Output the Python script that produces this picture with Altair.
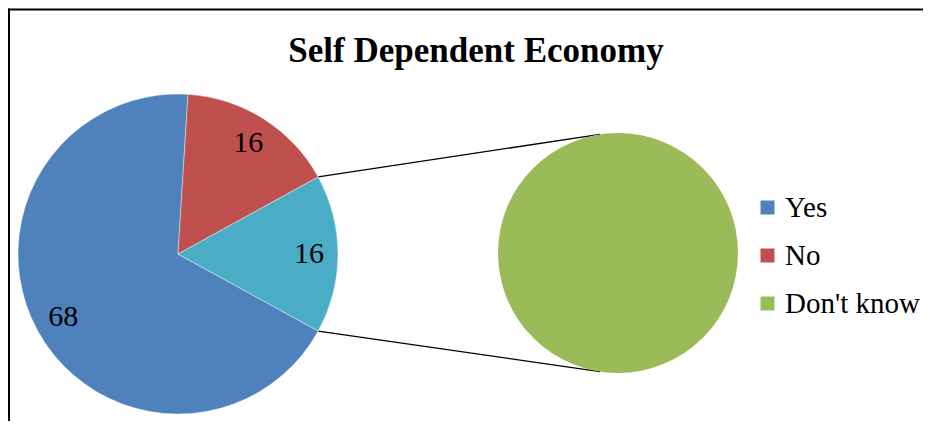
import math
import altair as alt
import pandas as pd

# ---- data ----
categories = ["Yes", "No", "Other"]
values = [68, 16, 16]
label_text = ["68", "16", "16"]
sub_categories = ["Don't know"]
sub_values = [16]
legend_labels = ["Yes", "No", "Don't know"]
color_domain = ["Yes", "No", "Other", "Don't know"]
colors = ["#4F81BD", "#C0504D", "#4BACC6", "#9BBB59"]
title_text = "Self Dependent Economy"

SERIF = "Times New Roman, Liberation Serif, serif"

main = pd.DataFrame({"cat": categories, "value": values, "label": label_text,
                     "order": list(range(len(categories)))})
sub = pd.DataFrame({"cat": sub_categories, "value": sub_values})

W, H = 915, 413
CX, CY, R = 170, 246, 160
SX, SY, SR = 610, 245, 120

total = sum(values)
other_deg = values[-1] / total * 360.0
start = math.radians(90 + other_deg / 2)
theta_range = [start, start + 2 * math.pi]

# connector endpoints derived from the "Other" slice boundaries
a1 = math.radians(90 - other_deg / 2)
a2 = math.radians(90 + other_deg / 2)
off = math.radians(-8.6)
conn = pd.DataFrame({
    "x": [CX + R * math.sin(a1), CX + R * math.sin(a2)],
    "y": [CY - R * math.cos(a1), CY - R * math.cos(a2)],
    "x2": [SX + SR * math.sin(off), SX + SR * math.sin(off)],
    "y2": [SY - SR * math.cos(off), SY + SR * math.cos(off)],
})

color_scale = alt.Scale(domain=color_domain, range=colors)
legend = alt.Legend(orient="none", legendX=745, legendY=185, title=None,
                    symbolType="square", symbolSize=196, symbolStrokeWidth=0,
                    labelFont=SERIF, labelFontSize=29, labelColor="black",
                    rowPadding=18, labelOffset=3, values=legend_labels)

main_arc = alt.Chart(main).mark_arc(stroke="white", strokeWidth=0.4).encode(
    theta=alt.Theta("value:Q", stack=True, scale=alt.Scale(range=theta_range)),
    order=alt.Order("order:Q"),
    color=alt.Color("cat:N", scale=color_scale, legend=legend),
    x=alt.value(CX), y=alt.value(CY), radius=alt.value(R),
)

main_text = alt.Chart(main).mark_text(font=SERIF, fontSize=30,
                                      color="black", baseline="middle").encode(
    theta=alt.Theta("value:Q", stack=True, scale=alt.Scale(range=theta_range)),
    order=alt.Order("order:Q"),
    text="label:N",
    x=alt.value(CX), y=alt.value(CY), radius=alt.value(131),
)

sub_arc = alt.Chart(sub).mark_arc().encode(
    theta=alt.Theta("value:Q", stack=True),
    color=alt.Color("cat:N", scale=color_scale, legend=legend),
    x=alt.value(SX), y=alt.value(SY), radius=alt.value(SR),
)

connectors = alt.Chart(conn).mark_rule(color="black", strokeWidth=1.3).encode(
    x=alt.X("x:Q", scale=None), y=alt.Y("y:Q", scale=None),
    x2="x2:Q", y2="y2:Q",
)

title = alt.Chart(pd.DataFrame({"t": [title_text]})).mark_text(
    font=SERIF, fontSize=35, fontWeight="bold", color="black",
    baseline="alphabetic", align="center").encode(
    text="t:N", x=alt.value(468), y=alt.value(54))

border_top = alt.Chart(pd.DataFrame({"a": [0]})).mark_rule(color="black", strokeWidth=2).encode(
    x=alt.value(0), x2=alt.value(W), y=alt.value(1.5))
border_left = alt.Chart(pd.DataFrame({"a": [0]})).mark_rule(color="black", strokeWidth=2).encode(
    x=alt.value(1), y=alt.value(0.5), y2=alt.value(H))

chart = alt.layer(
    connectors, main_arc, main_text, sub_arc, title, border_top, border_left
).resolve_scale(theta="independent").properties(
    width=W, height=H, padding=0, autosize=alt.AutoSizeParams(type="none")
).configure_view(stroke=None)

chart.save("out.html", embed_options={"renderer": "svg", "actions": False})
